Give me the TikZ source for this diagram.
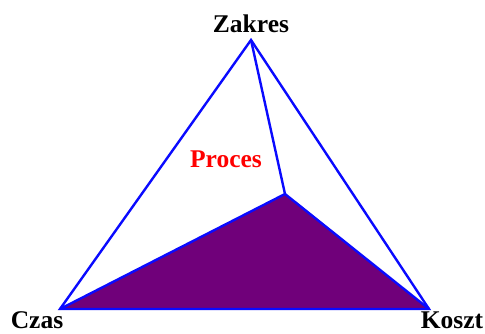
\documentclass[tikz,border=0pt]{standalone}
\usepackage{fontspec}
\setmainfont{Liberation Serif}
\definecolor{fillpurple}{RGB}{112,0,122}
\definecolor{edgeblue}{RGB}{10,10,255}
\begin{document}
\begin{tikzpicture}[x=1pt,y=1pt,
  edge/.style={draw=edgeblue,line width=2.4pt,line join=miter},
  lbl/.style={font=\bfseries\fontsize{25.5}{27}\selectfont,inner sep=0pt}]
\useasboundingbox (0,0) rectangle (485,333);
\coordinate (Z) at (251,293);
\coordinate (C) at (60,24);
\coordinate (K) at (429,24);
\coordinate (P) at (285,139);
\fill[fillpurple] (C) -- (P) -- (K) -- cycle;
\draw[edge] (Z) -- (C) -- (K) -- cycle;
\draw[edge] (Z) -- (P);
\draw[edge] (C) -- (P) -- (K);
\node[lbl] (zl) at (251,309) {Zakres};
\node[lbl] (cl) at (37,13) {Czas};
\node[lbl] (kl) at (452,13) {Koszt};
\node[lbl,text=red] (pl) at (226,174) {Proces};
\end{tikzpicture}
\end{document}
